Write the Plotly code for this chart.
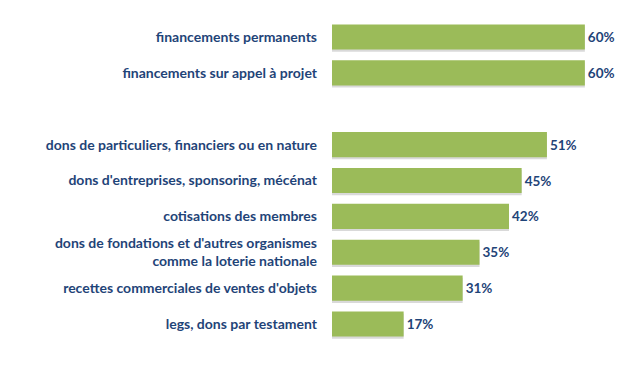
import plotly.graph_objects as go

categories = [
    "financements permanents",
    "financements sur appel à projet",
    " ",
    "dons de particuliers, financiers ou en nature",
    "dons d'entreprises, sponsoring, mécénat",
    "cotisations des membres",
    "dons de fondations et d'autres organismes<br>comme la loterie nationale",
    "recettes commerciales de ventes d'objets",
    "legs, dons par testament",
]
values = [60, 60, None, 51, 45, 42, 35, 31, 17]
text_labels = [f"{v}%" if v is not None else "" for v in values]

font_color = "#1F4478"

fig = go.Figure()
# soft shadow under each bar
fig.add_trace(go.Bar(
    y=categories, x=values, orientation="h",
    marker=dict(color="rgba(130,130,130,0.3)", line=dict(width=0)),
    width=0.7, offset=-0.35 + 0.06,
    hoverinfo="skip",
))
fig.add_trace(go.Bar(
    y=categories, x=values, orientation="h",
    marker=dict(color="#9BBB59", line=dict(width=0)),
    width=0.7, offset=-0.35,
    text=text_labels, textposition="outside",
    textfont=dict(family="Lato", size=13.5, color=font_color, weight="bold"),
    cliponaxis=False,
))
fig.update_layout(
    width=640, height=367,
    barmode="overlay",
    margin=dict(l=332, r=13, t=19, b=25),
    plot_bgcolor="white", paper_bgcolor="white",
    showlegend=False,
    xaxis=dict(range=[0, 70], visible=False),
    yaxis=dict(autorange="reversed", showgrid=False, zeroline=False,
               showline=False, ticks="", ticklabelstandoff=14,
               tickfont=dict(family="Lato", size=14, color=font_color, weight="bold")),
)
fig.write_html("out.html", config={"displayModeBar": False},
               post_script="document.body.style.margin='0';")
